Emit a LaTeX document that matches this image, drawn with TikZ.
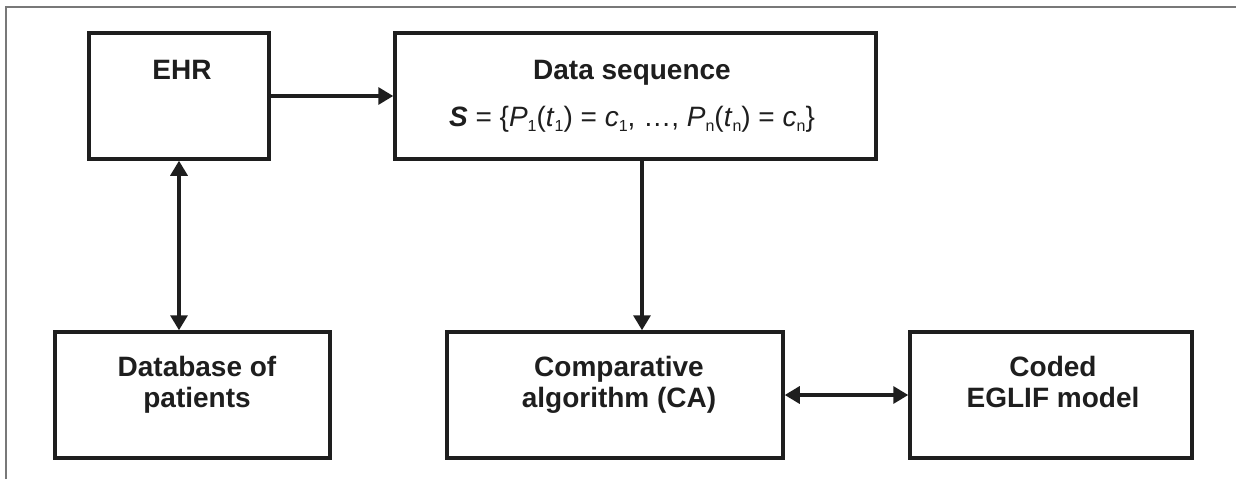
\documentclass[tikz,border=0pt]{standalone}
\usepackage{fontspec}
\setmainfont{Liberation Sans}
\usetikzlibrary{positioning,calc}
\usetikzlibrary{arrows.meta}
\definecolor{InkBlack}{RGB}{30,30,30}
\definecolor{FrameGray}{RGB}{120,120,120}
\newcommand{\lowidx}[1]{\raisebox{-5pt}{\fontsize{16}{16}\selectfont #1}}
\tikzset{
  box/.style={draw=InkBlack,line width=3.5pt,inner sep=0pt,minimum height=126pt},
  lab/.style={text=InkBlack,font=\fontsize{28}{31}\selectfont\bfseries,align=center,anchor=base,inner sep=0pt},
  link/.style={draw=InkBlack,line width=3.3pt,-{Triangle[length=15pt,width=17pt]}},
}
\tikzset{formula/.style={lab,font=\fontsize{28}{31}\selectfont}, both/.style={link,{Triangle[length=15pt,width=17pt]}-{Triangle[length=15pt,width=17pt]}}}

\begin{document}
\begin{tikzpicture}[x=1pt,y=1pt]
\useasboundingbox (0,0) rectangle (1236,-479);
\draw[FrameGray,line width=2pt] (6,-479) -- (6,-6.5) -- (1236,-6.5);
\node[box,minimum width=180pt] (ehr) at (179,-96) {};
\node[box,minimum width=481pt] (data) at (635.5,-96) {};
\node[box,minimum width=275pt] (db) at (192.5,-395) {};
\node[box,minimum width=336pt] (ca) at (615,-395) {};
\node[box,minimum width=282pt] (coded) at (1051,-395) {};
\node[lab] (ehrtxt) at (182,-79) {EHR};
\node[lab] (datatxt) at (632,-79) {Data sequence};
\node[formula] (seqtxt) at (632,-126) {{\bfseries\itshape S} = \{\textit{P}\lowidx{1}(\textit{t}\lowidx{1}) = \textit{c}\lowidx{1}, …, \textit{P}\lowidx{n}(\textit{t}\lowidx{n}) = \textit{c}\lowidx{n}\}};
\node[lab] (dbtxt) at (197,-407) {Database of\\patients};
\node[lab] (catxt) at (619,-407) {Comparative\\algorithm (CA)};
\node[lab] (codedtxt) at (1053,-407) {Coded\\EGLIF model};
\draw[link] (ehr) -- (data);
\draw[both] (ehr.south) -- (ehr.south |- db.north);
\draw[link] ([xshift=6.5pt]data.south) -- ([xshift=6.5pt]data.south |- ca.north);
\draw[both] (ca) -- (coded);
\end{tikzpicture}
\end{document}
